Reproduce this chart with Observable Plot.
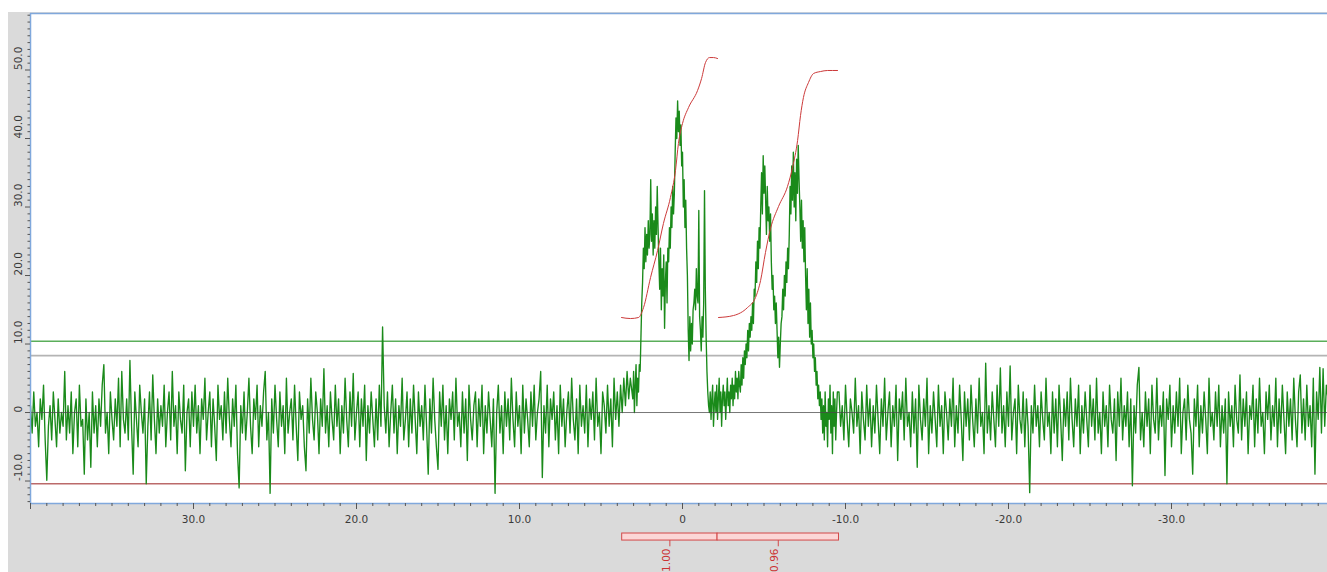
<!DOCTYPE html>
<html><head><meta charset="utf-8">
<script src="https://cdn.jsdelivr.net/npm/d3@7"></script>
<script src="https://cdn.jsdelivr.net/npm/@observablehq/plot@0.6"></script>
<style>
body{margin:0;background:#fff;}
#panel{position:absolute;left:8px;top:12px;width:1319px;height:560px;background:#dadada;overflow:hidden;}
</style></head><body><div id="panel"></div>
<script>
// Spectrum samples, left noise segment (ppm 40.0 -> 3.1, step 0.1)
const leftStart = 40.0, leftStep = 0.1;
const leftValues = [
1,-3,3,-2,0,-5,2,-1,4,-4,-9.9,-2,1,-4,3,-1,-5,2,-3,0,
-2,6,-4,1,-3,3,-6,0,2,-5,4,-2,-1,-9,2,-4,0,-8,3,-3,
1,-5,2,-2,4,7,-3,0,-6,3,-1,-4,2,-2,5,-5,6,-1,-3,2,
-4,7.6,-2,-9,3,-1,-5,4,0,-3,2,-10.4,-2,3,-4,5.5,-1,-6,2,-3,
1,-2,4,-5,0,3,-4,6,-2,1,-6,3,-1,-3,4,-8.5,0,2,-5,3,
-2,4,-3,1,-6,2,-1,5,-4,0,3,-5,2,-2,-7,4,-1,1,-4,3,
-3,5,-1,-5,2,-2,4,-6,-11,1,-3,3,-4,0,5,-2,-6,2,-1,4,
-5,1,-2,3,6,-4,0,-11.8,2,-3,4,-1,-5,3,-2,1,-6,5,-3,0,
2,-4,4,-2,-7,3,-1,1,-5,-8.5,2,-3,5,-1,-4,3,0,-6,2,-2,
6.4,-3,1,-5,3,-1,-4,4,-2,2,-6,1,-3,5,-1,-5,3,-2,5.7,-4,
0,3,-5,2,-2,4,-7,1,-3,3,-1,-5,2,-4,4,-2,12.5,1,-3,3,
-5,0,4,-3,2,-6,1,-2,5,-4,-1,3,-5,2,-3,4,-1,-6,3,-2,
1,-4,4,-2,-9,2,-3,5,-1,-5,-8.3,3,-2,4,-4,1,-6,2,-1,3,
-4,5,-2,0,-5,3,-3,2,-7,4,-1,-4,1,3,-5,2,-2,4,-6,1,
-3,3,-1,-5,2,-11.8,0,4,-3,1,-6,3,-2,2,-4,5,-1,-5,3,-2,
1,-6,4,-3,2,-1,-5,3,-2,4,-4,0,2,6,-9.5,1,-3,4,-5,2,
-1,3,-4,1,-6,4,-2,2,-5,0,3,-3,5,-1,-4,2,-6,4,-2,1,
-3,4,-5,2,-1,3,-4,5,-2,0,-6,3,1,-3,4,-2,2,-5,5,-1,
3,-2,4,0,5,1,6,2,5,3
];
// Peak segment (ppm 3.05 -> -9.5, step 0.05)
const peakStart = 3.05, peakStep = 0.05;
const peakValues = [
2,6,0,4,7,1,5,3,7,
6,11,16,
19,24,21,27,22,26,23,28,24,
26,34,
25,29,23,28,24,30,26,33,27,
22,18,24,15,21,17,23,12.3,19,22,16,24,
22,27,24,30,27,33,29,32,
38,43,40,45.5,41,44,39,42,
36,38,30,34,27,31,24,20,
12,7.6,14,9,13,10,15,
16,18,15,21,17,16,
29.5,14,
12,9,14,11,
16,32.4,18,
11,6,3,1,
0,3,-1,2,4,-2,1,3,0,4,-1,2,5,0,3,-2,2,4,1,3,-1,2,5,1,3,0,4,2,5,1,4,2,6,3,5,2,6,4,
3,7,4,8,5,9,7,10,8,12,9,13,11,14,12,16,13,18,
17,22,19,25,21,27,24,
30,35,29,37.5,32,36,
31,26,33,28,30,25,29,
22,18,20,15,17,13,16,
12,8,11,6.6,10,13,
14,18,15,20,17,22,19,24,21,
26,33,29,36,31,38,30,35,28,37,32,39,34,
30,25,31,24,28,22,27,
20,15,21,13,18,11,16,10,
12,8,10,6,8,4,6,2,4,1,3,-1,
2,-3,1,-4,3,-2,0,-5,2,-1,4,-3,1,-6,3,-2,2,-4,0,3
];
// Right noise segment (ppm -9.6 -> -39.6, step 0.1)
const rightStart = -9.6, rightStep = 0.1;
const rightValues = [
3,-2,1,-4,4,-1,-5,2,0,-3,5,-2,1,-6,3,-1,-4,4,-2,2,
-5,1,-3,4,-1,-6,2,-2,5,-4,0,3,-5,1,-2,4,-7,2,-1,3,
-4,5,-2,0,-5,3,-3,2,-8,4,-1,-4,2,-2,5,-6,1,-3,3,-1,
-5,4,-2,1,-6,3,0,-4,2,-2,5,-5,1,-3,4,-1,-7,3,-2,2,
-4,4,-1,-5,2,-3,5,-2,0,-6,7.2,-3,1,-4,3,-1,-5,4,-2,6.5,
-3,1,-5,3,-2,6.8,-4,0,2,-6,4,-1,-3,3,-5,2,-2,-11.7,1,-3,
4,-2,1,-5,3,-1,-4,5,-2,0,-6,3,-3,2,-5,4,-1,-7,2,-2,
3,-4,5,-1,-5,2,-2,4,-6,1,-3,3,-1,-5,4,-2,2,-4,5,-3,
0,-6,3,-2,1,-5,4,-1,-3,2,-7,3,-2,5,-4,1,-2,3,-5,2,
-10.7,1,-3,4,6.6,-4,0,-5,3,-2,2,-6,4,-1,-3,5,-4,1,-2,3,
-9.2,2,-1,4,-5,1,-3,3,-2,5,-6,0,2,-4,4,-1,-3,-9,2,-2,
4,-5,1,-3,3,-1,-6,5,-2,0,-4,3,-2,4,-5,1,-3,2,-10.4,3,
-2,1,-5,4,-1,-3,5.5,-4,2,-2,3,-6,1,-1,4,-5,2,-3,5,-2,
0,-6,3,-1,4,-4,1,-2,5,-5,2,-3,4,-1,-6,3,-2,2,-4,5,
-1,-5,3,5.5,-3,2,-4,4,-2,1,-5,5,-9,3,-1,6.6,-3,6.4,-2,4,
2
];
// Integral curves (ppm, integral value)
const integral1Ppm = [3.74,3.19,2.70,2.39,1.96,1.53,1.17,0.74,0.43,0.25,0.0,-0.37,-0.92,-1.17,-1.41,-1.66,-1.90,-2.15];
const integral1Val = [13.87,13.72,13.87,15.33,19.71,23.65,27.59,31.39,35.33,39.27,42.19,44.53,46.99,48.76,51.09,51.82,51.82,51.68];
const integral2Ppm = [-2.21,-3.13,-3.99,-4.48,-4.79,-5.09,-5.40,-5.89,-6.44,-6.75,-7.06,-7.24,-7.42,-7.73,-8.04,-8.47,-8.90,-9.51];
const integral2Val = [13.87,14.16,15.33,16.79,19.27,23.36,26.86,30.07,32.99,35.77,39.71,43.36,45.99,48.18,49.49,49.78,49.93,49.93];
// Integration ranges and labels
const rangeFrom = [3.7, -2.15];
const rangeTo = [-2.15, -9.6];
const rangeLabels = ["1.00", "0.96"];
// Threshold / reference lines
const greenLevel = 10.4, grayLevel = 8.3, redLevel = -10.4;
// Axis ticks
const xLabelTicks = [30, 20, 10, 0, -10, -20, -30];
const yLabelTicks = [-10, 0, 10, 20, 30, 40, 50];

const xDomain = [40.0, -39.57];
const yDomain = [-13.28, 58.25];

function seg(start, step, vals) { return vals.map((v, i) => ({ppm: +(start - step * i).toFixed(3), value: v})); }
const spectrum = [...seg(leftStart, leftStep, leftValues), ...seg(peakStart, peakStep, peakValues), ...seg(rightStart, rightStep, rightValues)];
const int1 = integral1Ppm.map((p, i) => ({ppm: p, value: integral1Val[i]}));
const int2 = integral2Ppm.map((p, i) => ({ppm: p, value: integral2Val[i]}));
const ranges = rangeFrom.map((f, i) => ({from: f, to: rangeTo[i], label: rangeLabels[i], mid: (f + rangeTo[i]) / 2}));

const xMinor = d3.range(-39, 41, 1).filter(d => d % 10 !== 0);
const xMajor = d3.range(-30, 41, 10);
const yMinor = d3.range(-13, 59, 1).filter(d => d % 10 !== 0);
const yMajor = d3.range(-10, 51, 10);
const fmt = d => d === 0 ? "0" : d.toFixed(1);
const blue = "#80a8dc";
// bar placement below the frame, in y units
const barTop = -17.66, barBottom = -18.69, stemBottom = -19.6;

const chart = Plot.plot({
  width: 1319, height: 560,
  marginLeft: 22, marginRight: 0, marginTop: 1, marginBottom: 69,
  x: {domain: xDomain},
  y: {domain: yDomain},
  style: {background: "transparent", fontFamily: "DejaVu Sans, sans-serif", overflow: "visible"},
  marks: [
    Plot.frame({fill: "white", stroke: null}),
    Plot.ruleY([greenLevel], {stroke: "#5aae5a", strokeWidth: 1.4}),
    Plot.ruleY([grayLevel], {stroke: "#b4b4b4", strokeWidth: 1.7}),
    Plot.ruleY([redLevel], {stroke: "#bb6a6a", strokeWidth: 1.3}),
    Plot.line(spectrum, {x: "ppm", y: "value", stroke: "#1a8a1a", strokeWidth: 1.35}),
    Plot.ruleY([0], {stroke: "#4a4a4a", strokeOpacity: 0.75, strokeWidth: 1}),
    Plot.line(int1, {x: "ppm", y: "value", stroke: "#cc3a3a", strokeWidth: 1, curve: "monotone-x"}),
    Plot.line(int2, {x: "ppm", y: "value", stroke: "#cc3a3a", strokeWidth: 1, curve: "monotone-x"}),
    Plot.ruleY([yDomain[1]], {stroke: blue, strokeWidth: 1.5}),
    Plot.ruleY([yDomain[0]], {stroke: blue, strokeWidth: 1.5}),
    Plot.ruleX([xDomain[0]], {stroke: blue, strokeWidth: 1.5}),
    Plot.axisX({anchor: "bottom", ticks: xMinor, tickSize: 3, tickFormat: () => "", stroke: "#555", label: null}),
    Plot.axisX({anchor: "bottom", ticks: xMajor, tickSize: 6, tickFormat: () => "", stroke: "#555", label: null}),
    Plot.axisY({anchor: "left", ticks: yMinor, tickSize: 2.5, tickFormat: () => "", stroke: "#555", label: null}),
    Plot.axisY({anchor: "left", ticks: yMajor, tickSize: 5, tickFormat: () => "", stroke: "#555", label: null}),
    Plot.text(xLabelTicks, {x: d => d, text: fmt, frameAnchor: "bottom", dy: 19, fontSize: 10.5, fill: "#3a3a3a"}),
    Plot.text(yLabelTicks, {y: d => d, text: fmt, frameAnchor: "left", dx: -12, rotate: -90, fontSize: 10.5, fill: "#3a3a3a"}),
    Plot.rect(ranges, {x1: "from", x2: "to", y1: barTop, y2: barBottom, fill: "#fcd6d6", stroke: "#d24848", strokeWidth: 1}),
    Plot.ruleX(ranges, {x: "mid", y1: barBottom, y2: stemBottom, stroke: "#d24848"}),
    Plot.text(ranges, {x: "mid", text: "label", frameAnchor: "bottom", dy: 45, rotate: -90, textAnchor: "end", fontSize: 10.5, fill: "#cc3333"})
  ]
});
document.getElementById("panel").appendChild(chart);
</script></body></html>
